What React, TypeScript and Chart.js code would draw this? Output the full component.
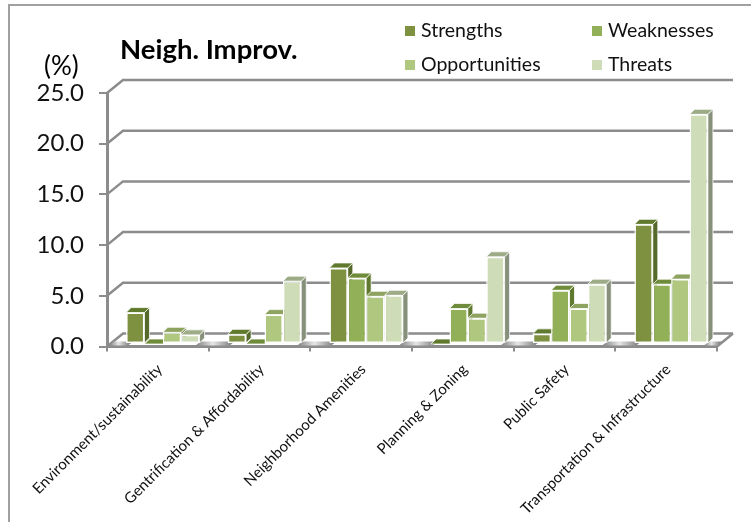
import React, { useEffect, useRef } from "react";
import { Chart, registerables } from "chart.js";

Chart.register(...registerables);

const categories = [
  "Environment/sustainability",
  "Gentrification & Affordability",
  "Neighborhood Amenities",
  "Planning & Zoning",
  "Public Safety",
  "Transportation & Infrastructure",
];
const strengths = [3.1, 0.95, 7.5, 0, 1.0, 11.8];
const weaknesses = [0, 0, 6.5, 3.5, 5.3, 5.9];
const opportunities = [1.15, 2.9, 4.7, 2.55, 3.5, 6.4];
const threats = [0.9, 6.2, 4.8, 8.6, 5.9, 22.65];

const seriesNames = ["Strengths", "Weaknesses", "Opportunities", "Threats"];
const frontColors = ["#7d9140", "#92b058", "#b0c77f", "#cfdcb8"];
const topColors = ["#5f7a2c", "#6f8c3a", "#8ea35f", "#9dac87"];
const sideColors = ["#55692a", "#5f7a2f", "#7c8a58", "#87907a"];

const chartTitle = "Neigh. Improv.";
const unitLabel = "(%)";
const FONT = "Lato, 'Open Sans', sans-serif";
const AXIS_GRAY = "#8c8c8c";

// Box depth of the plot's walls and of each column.
const WALL_DX = 16;
const WALL_DY = 13;
const BAR_DX = 5;
const BAR_DY = 5;
const BAR_SHIFT_X = 5;
const BAR_SHIFT_Y = -2.5;

function poly(ctx: CanvasRenderingContext2D, pts: number[][], fill: string | CanvasGradient, stroke?: string) {
  ctx.beginPath();
  pts.forEach(([x, y], i) => (i ? ctx.lineTo(x, y) : ctx.moveTo(x, y)));
  ctx.closePath();
  ctx.fillStyle = fill;
  ctx.fill();
  if (stroke) {
    ctx.strokeStyle = stroke;
    ctx.lineWidth = 1;
    ctx.stroke();
  }
}

// Back wall, left wall edges and floor of the box behind the columns.
const wallsPlugin = {
  id: "walls",
  beforeDatasetsDraw(chart: any) {
    const { ctx, chartArea, scales } = chart;
    const { left, right, bottom } = chartArea;
    ctx.save();
    ctx.strokeStyle = AXIS_GRAY;
    ctx.lineWidth = 2.5;
    scales.y.ticks.forEach((t: any) => {
      const y = scales.y.getPixelForValue(t.value);
      ctx.beginPath();
      ctx.moveTo(left, y);
      ctx.lineTo(left + WALL_DX, y - WALL_DY);
      ctx.lineTo(right + WALL_DX, y - WALL_DY);
      ctx.stroke();
    });
    ctx.beginPath();
    ctx.moveTo(right, bottom);
    ctx.lineTo(right + WALL_DX, bottom - WALL_DY);
    ctx.stroke();

    // Shaded strip along the front edge of the floor, brightest at each category boundary.
    const step = (right - left) / categories.length;
    for (let i = 0; i <= categories.length; i++) {
      const cx = left + i * step + 4;
      const x0 = Math.max(cx - 17, left + 2);
      const x1 = Math.min(cx + 17, right + 2);
      const g = ctx.createLinearGradient(x0, 0, x1, 0);
      g.addColorStop(0, "#7f7f7f");
      g.addColorStop(0.5, "#e6e6e6");
      g.addColorStop(1, "#8c8c8c");
      poly(
        ctx,
        [
          [x0, bottom - 1],
          [x1, bottom - 1],
          [x1 + 5, bottom - 5],
          [x0 + 5, bottom - 5],
        ],
        g
      );
    }
    ctx.restore();

    // Columns sit halfway into the box; their front faces keep this offset until afterDatasetsDraw.
    ctx.save();
    ctx.translate(BAR_SHIFT_X, BAR_SHIFT_Y);
    for (let c = 0; c < categories.length; c++) {
      for (let d = 0; d < seriesNames.length; d++) {
        const bar = chart.getDatasetMeta(d).data[c];
        const x0 = bar.x - bar.width / 2;
        const x1 = bar.x + bar.width / 2;
        poly(
          ctx,
          [
            [x1, bar.y],
            [x1 + BAR_DX, bar.y - BAR_DY],
            [x1 + BAR_DX, bar.base - BAR_DY],
            [x1, bar.base],
          ],
          sideColors[d],
          "rgba(255,255,255,0.75)"
        );
        poly(
          ctx,
          [
            [x0, bar.y],
            [x0 + BAR_DX, bar.y - BAR_DY],
            [x1 + BAR_DX, bar.y - BAR_DY],
            [x1, bar.y],
          ],
          topColors[d],
          "rgba(255,255,255,0.75)"
        );
      }
    }
  },
  afterDatasetsDraw(chart: any) {
    chart.ctx.restore();
  },
  afterDraw(chart: any) {
    const { ctx } = chart;
    ctx.save();
    ctx.textBaseline = "middle";
    ctx.textAlign = "left";
    ctx.fillStyle = "#000";
    ctx.font = `bold 27.5px ${FONT}`;
    ctx.fillText(chartTitle, 120, 50);
    ctx.font = `26px ${FONT}`;
    ctx.fillText(unitLabel, 44, 67);

    // Two-by-two legend above the plot.
    ctx.font = `19.5px ${FONT}`;
    const columns = [405, 592];
    const rows = [31, 65];
    seriesNames.forEach((name, i) => {
      const x = columns[i % 2];
      const y = rows[Math.floor(i / 2)];
      ctx.fillStyle = frontColors[i];
      ctx.fillRect(x, y - 5, 10, 10);
      ctx.fillStyle = "#111";
      ctx.fillText(name, x + 16, y);
    });
    ctx.restore();
  },
};

export default function App() {
  const canvasRef = useRef<HTMLCanvasElement>(null);

  useEffect(() => {
    const seriesValues = [strengths, weaknesses, opportunities, threats];
    const chart = new Chart(canvasRef.current as HTMLCanvasElement, {
      type: "bar",
      data: {
        labels: categories,
        datasets: seriesNames.map((name, i) => ({
          label: name,
          data: seriesValues[i],
          backgroundColor: frontColors[i],
          borderColor: "#ffffff",
          borderWidth: 1.5,
          borderSkipped: false,
          barPercentage: 1,
          categoryPercentage: 0.723,
        })),
      },
      options: {
        animation: false,
        responsive: false,
        layout: { padding: { top: 93, right: 34, left: 0, bottom: 0 } },
        plugins: { legend: { display: false }, title: { display: false }, tooltip: { enabled: false } },
        scales: {
          x: {
            afterFit(scale: any) {
              scale.height = 175.5;
            },
            grid: {
              drawOnChartArea: false,
              tickLength: 5,
              color: AXIS_GRAY,
              lineWidth: 2,
            },
            border: { color: AXIS_GRAY, width: 3 },
            ticks: {
              maxRotation: 45,
              minRotation: 45,
              autoSkip: false,
              labelOffset: 2,
              padding: 9,
              color: "#111",
              font: { family: FONT, size: 15 },
            },
          },
          y: {
            min: 0,
            max: 25,
            afterFit(scale: any) {
              scale.width = 107;
            },
            grid: {
              drawOnChartArea: false,
              tickLength: 8,
              color: AXIS_GRAY,
              lineWidth: 2,
            },
            border: { color: AXIS_GRAY, width: 3 },
            ticks: {
              stepSize: 5,
              padding: 15,
              color: "#111",
              font: { family: FONT, size: 24 },
              callback: (v: any) => Number(v).toFixed(1),
            },
          },
        },
      },
      plugins: [wallsPlugin],
    } as any);
    return () => chart.destroy();
  }, []);

  return (
    <div style={{ position: "absolute", left: 0, top: 0, width: 751, height: 522, background: "#fff" }}>
      <div
        style={{
          position: "absolute",
          left: 8,
          top: 4,
          right: 0,
          bottom: 0,
          borderLeft: "2px solid #a0a0a0",
          borderTop: "2px solid #a0a0a0",
        }}
      />
      <canvas ref={canvasRef} width={751} height={522} style={{ position: "absolute", left: 0, top: 0 }} />
    </div>
  );
}
